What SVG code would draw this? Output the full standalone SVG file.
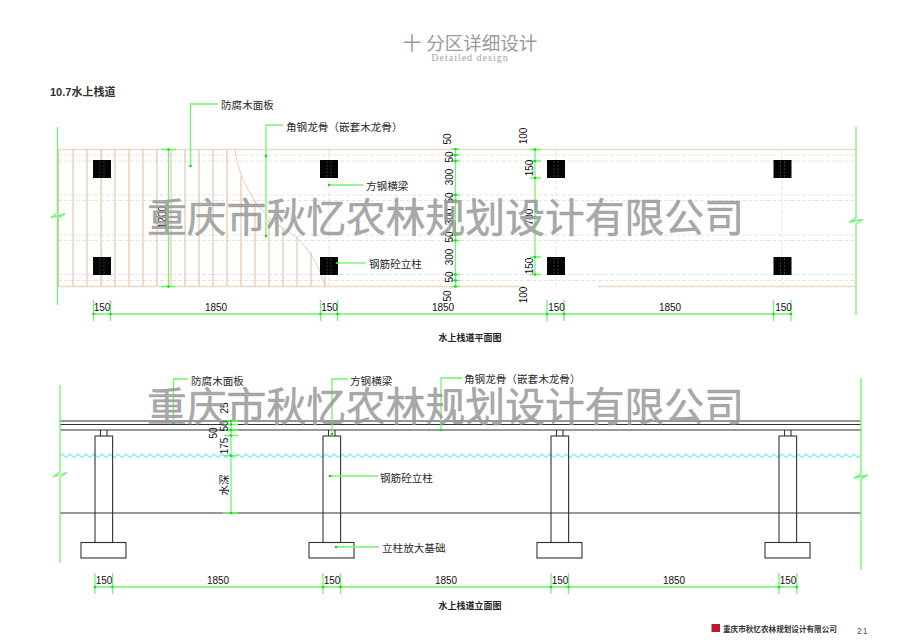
<svg xmlns="http://www.w3.org/2000/svg" width="900" height="642" viewBox="0 0 900 642">
<style>
text{font-family:"Liberation Sans","Noto Sans CJK SC",sans-serif;fill:#1c1c1c}
.lb{font-size:10.6px;fill:#2a2a2a}
.dm{font-size:10px;fill:#111}
.cap{font-size:9px;font-weight:bold;fill:#222}
.wm{font-size:39.8px;fill:#999;fill-opacity:.85;stroke:#999;stroke-opacity:.75;stroke-width:.6;font-family:"Noto Sans CJK SC",sans-serif}
.g{stroke:#6ff56f;stroke-width:1.3;fill:none}
.pl{stroke:#e6c8ac;stroke-width:1.2;fill:none}
.edge{stroke:#efd8c4;stroke-width:1.4;fill:none}
.dash{stroke:#dedede;stroke-width:.8;stroke-dasharray:4 2;fill:none}
.sl{stroke:#333;stroke-width:1.1;fill:none}
.d{fill:#14dc14}
</style>
<defs>
<g id="col"><rect x="0" y="0" width="18" height="18" fill="#050505"/><path d="M7 1V17M11 1V17" stroke="#555" stroke-width=".6" stroke-dasharray="2 1.5"/></g>
<g id="pier"><path class="sl" d="M19.500 -6V0M26 -6V0"/><rect class="sl" x="14" y="0" width="17.600" height="106.500"/><rect class="sl" x="0" y="106.500" width="45" height="15.500"/></g>
<circle id="dot" r="1.300" class="d"/>
<pattern id="wv" x="60" y="452.700" width="8" height="6" patternUnits="userSpaceOnUse"><path d="M0 3Q2 0.400 4 3T8 3" fill="none" stroke="#62e6e2" stroke-width="1.200"/></pattern>
</defs>
<rect width="900" height="642" fill="#fff"/>

<g id="header">
<text x="470" y="49.500" text-anchor="middle" style="font-size:18.500px;fill:#9a9a9a">十 分区详细设计</text>
<text x="470" y="61" text-anchor="middle" style="font-family:'Liberation Serif',serif;font-size:10px;letter-spacing:1px;fill:#a5a5a5">Detailed design</text>
<text x="50" y="96" style="font-size:11px;font-weight:bold;fill:#333">10.7水上栈道</text>
</g>

<g id="plan-deck">
<path class="dash" d="M58 155H856M58 161H856M58 195H856M58 200.500H856M58 235H856M58 240.500H856M58 274.500H856M58 280.500H856"/>
<path class="dash" d="M102 150V286M329 150V286M556 150V286M782 150V286"/>
<path class="edge" d="M58 149.500H856M58 286.500H525M598 286.500H856"/>
<path class="pl" d="M58.500 149.500V286.500M73 149.500V286.500M87 149.500V286.500M101 149.500V286.500M115 149.500V286.500M129 149.500V286.500M143 149.500V286.500M157 149.500V286.500M171 149.500V286.500M185 149.500V286.500M199 149.500V286.500M213 149.500V286.500M227 149.500V286.500M241 176V286.500M255 201V286.500M269 219V286.500M283 228V286.500M297 236V286.500M311 252V286.500M325 276V286.500"/>
<path class="pl" style="stroke-width:.9" d="M235 149.500C237 165 241 177 250 193C258 207 268 219 283 228C300 238 316 255 325 286"/>
</g>
<g id="plan-columns">
<use href="#col" x="93" y="160"/><use href="#col" x="93" y="257"/>
<use href="#col" x="320" y="160"/><use href="#col" x="320" y="257"/>
<use href="#col" x="547" y="160"/><use href="#col" x="547" y="257"/>
<use href="#col" x="773.500" y="160"/><use href="#col" x="773.500" y="257"/>
</g>

<g id="elevation">
<path class="sl" d="M60 421H861M60 424.500H861M60 430H861M60 513H861"/>
<rect x="60" y="452.700" width="801" height="6" fill="url(#wv)"/>
</g>
<g id="pier-1"><use href="#pier" x="81" y="436"/></g>
<g id="pier-2"><use href="#pier" x="309" y="436"/></g>
<g id="pier-3"><use href="#pier" x="537" y="436"/></g>
<g id="pier-4"><use href="#pier" x="765" y="436"/></g>

<g id="connectors">
<path class="g" d="M57.500 127V213L51 217.500L65 214L57.500 218V305"/>
<path class="g" d="M856 127V218L849 222L863 219.500L856 224V315"/>
<path class="g" d="M60 385V472L53 477L67 472.500L60 477V563"/>
<path class="g" d="M861 378V474L854 478L868 475L861 479V570"/>
<path class="g" d="M168.500 149.500V286.500M161 149.500H176M161 286.500H176"/>
<path class="g" d="M455.500 149V286.500M451 149H460M451 155H460M451 161H460M451 195H460M451 200.500H460M451 235H460M451 240.500H460M451 274.500H460M451 280.500H460M451 286.500H460"/>
<path class="g" d="M535 149.500V274.500M530 149.500H541M530 161H541M530 178H541M530 257H541M530 274.500H541"/>
<path class="g" d="M93.500 314H791.500M93.500 300V321M110.500 300V321M320.500 300V321M337.500 300V321M547 300V321M564 300V321M773.500 300V321M791 300V321"/>
<path class="g" d="M231 421V513M224 421H238M224 424.500H238M224 430H238M224 435.500H238M224 455.700H238M223 513H238"/>
<path class="g" d="M95 587H796.700M95 573V594M112.500 573V594M323 573V594M340.500 573V594M551 573V594M568.500 573V594M779 573V594M796.700 573V594"/>
<path class="g" d="M190.500 166V104H218"/>
<path class="g" d="M266 236V125H283"/>
<path class="g" d="M329 185H363"/>
<path class="g" d="M337 263H366"/>
<path class="g" d="M173.500 423V379H188"/>
<path class="g" d="M332 435V379H348"/>
<path class="g" d="M441 430V378H462"/>
<path class="g" d="M330 476H378"/>
<path class="g" d="M336 547H379"/>
<use href="#dot" x="190.500" y="166"/><use href="#dot" x="266" y="156"/><use href="#dot" x="266" y="236"/><use href="#dot" x="329" y="185"/><use href="#dot" x="337" y="263"/>
<use href="#dot" x="173.500" y="423"/><use href="#dot" x="332" y="434"/><use href="#dot" x="441" y="430"/><use href="#dot" x="330" y="476"/><use href="#dot" x="336" y="547"/>
<use href="#dot" x="168.500" y="149.500"/><use href="#dot" x="168.500" y="286.500"/>
<use href="#dot" x="93.500" y="314"/><use href="#dot" x="110.500" y="314"/><use href="#dot" x="320.500" y="314"/><use href="#dot" x="337.500" y="314"/><use href="#dot" x="547" y="314"/><use href="#dot" x="564" y="314"/><use href="#dot" x="773.500" y="314"/><use href="#dot" x="791" y="314"/>
<use href="#dot" x="95" y="587"/><use href="#dot" x="112.500" y="587"/><use href="#dot" x="323" y="587"/><use href="#dot" x="340.500" y="587"/><use href="#dot" x="551" y="587"/><use href="#dot" x="568.500" y="587"/><use href="#dot" x="779" y="587"/><use href="#dot" x="796.700" y="587"/>
<use href="#dot" x="231" y="421"/><use href="#dot" x="231" y="424.500"/><use href="#dot" x="231" y="430"/><use href="#dot" x="231" y="435.500"/><use href="#dot" x="231" y="455.700"/><use href="#dot" x="231" y="513"/>
<use href="#dot" x="455.500" y="149"/><use href="#dot" x="455.500" y="155"/><use href="#dot" x="455.500" y="161"/><use href="#dot" x="455.500" y="195"/><use href="#dot" x="455.500" y="200.500"/><use href="#dot" x="455.500" y="235"/><use href="#dot" x="455.500" y="240.500"/><use href="#dot" x="455.500" y="274.500"/><use href="#dot" x="455.500" y="280.500"/><use href="#dot" x="455.500" y="286.500"/>
<use href="#dot" x="535" y="149.500"/><use href="#dot" x="535" y="161"/><use href="#dot" x="535" y="178"/><use href="#dot" x="535" y="257"/><use href="#dot" x="535" y="274.500"/>
</g>

<g id="labels">
<text class="lb" x="221" y="109">防腐木面板</text>
<text class="lb" x="286" y="131">角钢龙骨（嵌套木龙骨）</text>
<text class="lb" x="366" y="190">方钢横梁</text>
<text class="lb" x="369" y="268">钢筋砼立柱</text>
<text class="lb" x="191" y="385">防腐木面板</text>
<text class="lb" x="350" y="385">方钢横梁</text>
<text class="lb" x="464" y="383">角钢龙骨（嵌套木龙骨）</text>
<text class="lb" x="380" y="482">钢筋砼立柱</text>
<text class="lb" x="382" y="552">立柱放大基础</text>
<text class="cap" x="470" y="341" text-anchor="middle">水上栈道平面图</text>
<text class="cap" x="470" y="609" text-anchor="middle">水上栈道立面图</text>
</g>

<g id="dim-text" text-anchor="middle">
<text class="dm" x="102" y="311">150</text><text class="dm" x="216" y="311">1850</text><text class="dm" x="329.500" y="311">150</text><text class="dm" x="443" y="311">1850</text><text class="dm" x="556.500" y="311">150</text><text class="dm" x="670" y="311">1850</text><text class="dm" x="783.500" y="311">150</text>
<text class="dm" x="104" y="584">150</text><text class="dm" x="218" y="584">1850</text><text class="dm" x="332" y="584">150</text><text class="dm" x="446" y="584">1850</text><text class="dm" x="560" y="584">150</text><text class="dm" x="674" y="584">1850</text><text class="dm" x="788" y="584">150</text>
<text class="dm" transform="translate(166 217) rotate(-90)">1200</text>
<text class="dm" transform="translate(450.500 139) rotate(-90)">50</text>
<text class="dm" transform="translate(453 157) rotate(-90)">50</text>
<text class="dm" transform="translate(453 177) rotate(-90)">300</text>
<text class="dm" transform="translate(453 198) rotate(-90)">50</text>
<text class="dm" transform="translate(453 217) rotate(-90)">300</text>
<text class="dm" transform="translate(453 237) rotate(-90)">50</text>
<text class="dm" transform="translate(453 257) rotate(-90)">300</text>
<text class="dm" transform="translate(453 277) rotate(-90)">50</text>
<text class="dm" transform="translate(450.500 296) rotate(-90)">50</text>
<text class="dm" transform="translate(527 136) rotate(-90)">100</text>
<text class="dm" transform="translate(533 168) rotate(-90)">150</text>
<text class="dm" transform="translate(533 217) rotate(-90)">700</text>
<text class="dm" transform="translate(533 266) rotate(-90)">150</text>
<text class="dm" transform="translate(527 295) rotate(-90)">100</text>
<text class="dm" transform="translate(228 408) rotate(-90)">25</text>
<text class="dm" transform="translate(228 426) rotate(-90)">50</text>
<text class="dm" transform="translate(217 433) rotate(-90)">50</text>
<text class="dm" transform="translate(228 446) rotate(-90)">175</text>
<text class="dm" transform="translate(228 485) rotate(-90)" style="font-size:10.500px">水深</text>
</g>

<g id="watermark">
<text class="wm" x="147" y="232">重庆市秋忆农林规划设计有限公司</text>
<text class="wm" x="147" y="421">重庆市秋忆农林规划设计有限公司</text>
</g>

<g id="footer">
<rect x="711.500" y="624" width="8.500" height="8" fill="#b81c2c"/>
<text x="723" y="631.500" style="font-size:7.600px;font-weight:bold;fill:#333">重庆市秋忆农林规划设计有限公司</text>
<text x="857" y="634" style="font-size:8.500px;letter-spacing:1px;fill:#555">21</text>
</g>
</svg>
